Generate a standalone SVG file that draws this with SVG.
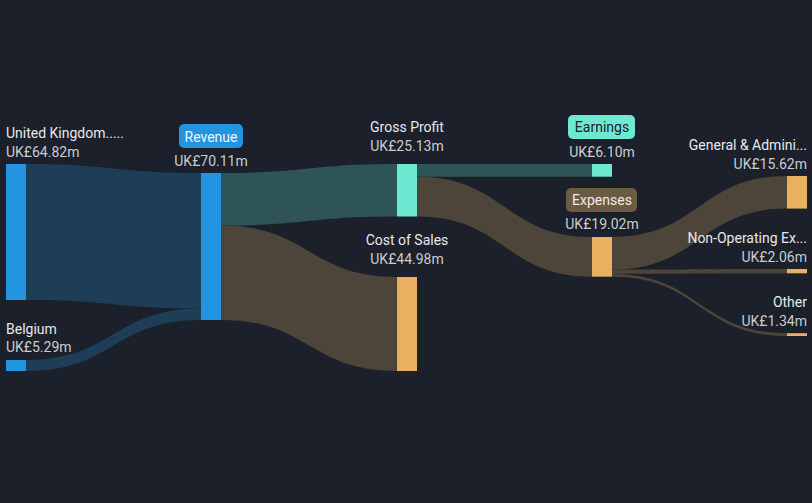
<svg xmlns="http://www.w3.org/2000/svg" width="812" height="503" viewBox="0 0 812 503">
<style>
.lbl{font-family:Roboto,"Liberation Sans",sans-serif;font-size:14px;fill:#e8e9ea}
.val{font-family:Roboto,"Liberation Sans",sans-serif;font-size:14px;fill:#c9ccd0}
.mid{text-anchor:middle}
.end{text-anchor:end}
.blue{fill:#2394df}
.teal{fill:#6fe8d2}
.orange{fill:#e8b060}
.lb{fill:#1e3d56}
.lt{fill:#2e5456}
.lo{fill:#4d4539}
</style>
<rect width="812" height="503" fill="#1b202b"/>
<g id="connectors">
<path class="lb" d="M26 164 C113.5 164 113.5 173 201 173 L201 308.5 C113.5 308.5 113.5 300 26 300 Z"/>
<path class="lb" d="M26 360 C113.5 360 113.5 308.5 201 308.5 L201 320 C113.5 320 113.5 371 26 371 Z"/>
<path class="lt" d="M221 173 C309 173 309 164 397 164 L397 216.5 C309 216.5 309 225.5 221 225.5 Z"/>
<path class="lo" d="M221 225.5 C309 225.5 309 277 397 277 L397 371 C309 371 309 320 221 320 Z"/>
<path class="lt" d="M417 164 L592 164 L592 176.7 L417 176.7 Z"/>
<path class="lo" d="M417 176.7 C504.5 176.7 504.5 237 592 237 L592 276.7 C504.5 276.7 504.5 216.5 417 216.5 Z"/>
<path class="lo" d="M612 237 C699.5 237 699.5 176 787 176 L787 208.6 C699.5 208.6 699.5 269.6 612 269.6 Z"/>
<path class="lo" d="M612 269.6 C699.5 269.6 699.5 269 787 269 L787 273.3 C699.5 273.3 699.5 273.9 612 273.9 Z"/>
<path class="lo" d="M612 273.9 C699.5 273.9 699.5 333.2 787 333.2 L787 336 C699.5 336 699.5 276.7 612 276.7 Z"/>
</g>
<g id="node-uk">
<rect class="blue" x="6" y="164" width="20" height="136"/>
<text class="lbl" x="6" y="138">United Kingdom.....</text>
<text class="val" x="6" y="157">UK£64.82m</text>
</g>
<g id="node-belgium">
<rect class="blue" x="6" y="360" width="20" height="11"/>
<text class="lbl" x="6" y="334">Belgium</text>
<text class="val" x="6" y="352">UK£5.29m</text>
</g>
<g id="node-revenue">
<rect class="blue" x="201" y="173" width="20" height="147"/>
<rect class="blue" x="179" y="124" width="64" height="24" rx="5"/>
<text class="lbl mid" x="211" y="141.5" style="fill:#f2f6fa">Revenue</text>
<text class="val mid" x="211" y="166">UK£70.11m</text>
</g>
<g id="node-grossprofit">
<rect class="teal" x="397" y="164" width="20" height="52.5"/>
<text class="lbl mid" x="407" y="132">Gross Profit</text>
<text class="val mid" x="407" y="151">UK£25.13m</text>
</g>
<g id="node-costofsales">
<rect class="orange" x="397" y="277" width="20" height="94"/>
<text class="lbl mid" x="407" y="245">Cost of Sales</text>
<text class="val mid" x="407" y="264">UK£44.98m</text>
</g>
<g id="node-earnings">
<rect class="teal" x="592" y="164" width="20" height="12.7"/>
<rect class="teal" x="568" y="115" width="67" height="24" rx="5"/>
<text class="lbl mid" x="602" y="132" style="fill:#1b202b">Earnings</text>
<text class="val mid" x="602" y="157">UK£6.10m</text>
</g>
<g id="node-expenses">
<rect class="orange" x="592" y="237" width="20" height="39.7"/>
<rect x="566" y="188" width="71" height="24" rx="5" fill="#6b5a44"/>
<text class="lbl mid" x="602" y="205" style="fill:#f0ece6">Expenses</text>
<text class="val mid" x="602" y="229">UK£19.02m</text>
</g>
<g id="node-ga">
<rect class="orange" x="787" y="176" width="20" height="32.6"/>
<text class="lbl end" x="807" y="150">General &amp; Admini...</text>
<text class="val end" x="807" y="169">UK£15.62m</text>
</g>
<g id="node-nonop">
<rect class="orange" x="787" y="269" width="20" height="4.3"/>
<text class="lbl end" x="807" y="243">Non-Operating Ex...</text>
<text class="val end" x="807" y="262">UK£2.06m</text>
</g>
<g id="node-other">
<rect class="orange" x="787" y="333.2" width="20" height="2.8"/>
<text class="lbl end" x="807" y="307">Other</text>
<text class="val end" x="807" y="326">UK£1.34m</text>
</g>
</svg>
